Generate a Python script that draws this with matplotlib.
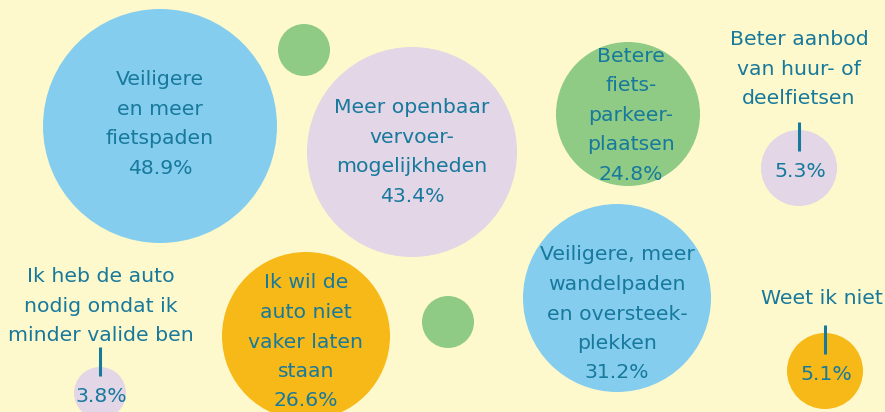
import matplotlib
matplotlib.use('agg')
import matplotlib.pyplot as plt
from matplotlib.patches import Circle

# data
labels = [
    "Veiligere\nen meer\nfietspaden",
    "Meer openbaar\nvervoer-\nmogelijkheden",
    "Betere\nfiets-\nparkeer-\nplaatsen",
    "Beter aanbod\nvan huur- of\ndeelfietsen",
    "Ik heb de auto\nnodig omdat ik\nminder valide ben",
    "Ik wil de\nauto niet\nvaker laten\nstaan",
    "Veiligere, meer\nwandelpaden\nen oversteek-\nplekken",
    "Weet ik niet",
]
values = [48.9, 43.4, 24.8, 5.3, 3.8, 26.6, 31.2, 5.1]

# layout in pixels: bubble centre, radius, text offset from centre
centers = [(160, 126), (412, 152), (628, 114), (799, 168),
           (100, 393), (306, 336), (617, 298), (825, 371)]
radii = [117, 105, 72, 38, 26, 84, 94, 38]
text_off = [(0, -2), (0, 0), (3, 1), (0, -99),
            (1, -87), (0, 6), (0, 16), (-3, -73)]
outside = [False, False, False, True, True, False, False, True]
BLUE, LILAC, GREEN, ORANGE = "#84cdee", "#e3d6e6", "#8fcb84", "#f7b918"
colors = [BLUE, LILAC, GREEN, LILAC, LILAC, ORANGE, BLUE, ORANGE]
deco = [((304, 50), 26), ((448, 322), 26)]

BG = "#fef9cc"
TXT = "#17799c"
FS = 14.7
LS = 1.7

fig = plt.figure(figsize=(8.85, 4.12), dpi=100, facecolor=BG)
ax = fig.add_axes([0, 0, 1, 1])
ax.set_facecolor(BG)
ax.set_xlim(0, 885)
ax.set_ylim(412, 0)
ax.set_aspect('equal')
ax.axis('off')

for (cx, cy), r in deco:
    ax.add_patch(Circle((cx, cy), r, color=GREEN, lw=0))

for lab, val, (cx, cy), r, (dx, dy), out, col in zip(
        labels, values, centers, radii, text_off, outside, colors):
    ax.add_patch(Circle((cx, cy), r, color=col, lw=0))
    pct = f"{val}%"
    if out:
        ax.text(cx + 1, cy + 3, pct, ha='center', va='center', fontsize=FS, color=TXT)
        ax.plot([cx, cx], [cy - 46, cy - 17], color=TXT, lw=2.2, solid_capstyle='butt')
        ax.text(cx + dx, cy + dy, lab, ha='center', va='center', fontsize=FS, color=TXT,
                linespacing=LS, multialignment='center')
    else:
        ax.text(cx + dx, cy + dy, lab + "\n" + pct, ha='center', va='center', fontsize=FS,
                color=TXT, linespacing=LS, multialignment='center')

fig.savefig('out.png', dpi=100, facecolor=BG)
